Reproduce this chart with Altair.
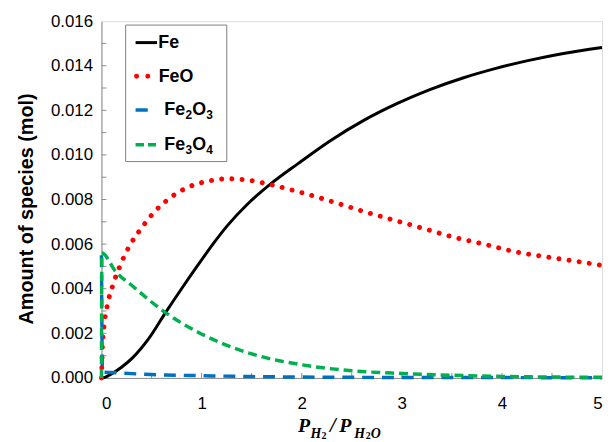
import altair as alt
import pandas as pd

# ---- data ----
fe_x = [0, 0.04, 0.1, 0.2, 0.31, 0.47, 0.64, 0.80, 0.97, 1.13, 1.26, 1.46, 1.69, 1.96,
        2.29, 2.62, 2.95, 3.28, 3.61, 3.94, 4.27, 4.60, 5.0]
fe_y = [0, 0.00004, 0.00018, 0.00048, 0.0009, 0.00175, 0.00293, 0.00400, 0.0051, 0.0061,
        0.00684, 0.0078, 0.0087, 0.0096, 0.01065, 0.01155, 0.0123, 0.01293, 0.01345,
        0.01388, 0.01424, 0.01454, 0.01482]

feo_x = [0, 0.004, 0.01, 0.027, 0.06, 0.116, 0.19, 0.28, 0.40, 0.53, 0.69, 0.87, 1.07, 1.26,
         1.48, 1.69, 1.89, 2.0, 2.30, 2.60, 2.91, 3.21, 3.51, 3.82, 4.13, 4.44, 4.75, 5.0]
feo_y = [0, 0.00056, 0.00145, 0.00238, 0.00329, 0.00419, 0.00508, 0.00592, 0.00672, 0.00745,
         0.00809, 0.00856, 0.00883, 0.00893, 0.00886, 0.00867, 0.00844, 0.00831, 0.00791,
         0.00749, 0.00709, 0.00671, 0.00632, 0.006, 0.00566, 0.00543, 0.00522, 0.00505]

fe2o3_x = [0, 0.01, 0.1, 0.5, 1.0, 1.5, 2.0, 3.0, 4.0, 5.0]
fe2o3_y = [0.0055, 0.00026, 0.00024, 0.00015, 0.0001, 0.00006, 0.00004, 0.00002, 0.000015, 0.00001]

fe3o4_x = [0, 0.004, 0.14, 0.31, 0.64, 0.97, 1.30, 1.63, 1.96, 2.5, 3.0, 3.5, 4.0, 4.5, 5.0]
fe3o4_y = [0, 0.0056, 0.00478, 0.00412, 0.00293, 0.00204, 0.00138, 0.00092, 0.00062,
           0.00032, 0.0002, 0.00012, 0.00007, 0.00004, 0.00003]

x_ticks = [0, 1, 2, 3, 4, 5]
x_minor = [0.5, 1, 1.5, 2, 2.5, 3, 3.5, 4, 4.5]
y_ticks = [0, 0.002, 0.004, 0.006, 0.008, 0.010, 0.012, 0.014, 0.016]
y_minor = [0.001 * i for i in range(1, 16)]

FONT = "Liberation Sans"
SERIF = "Liberation Serif"
GRAY = "#8c8c8c"

xs = alt.Scale(domain=[0, 5], nice=False)
ys = alt.Scale(domain=[0, 0.016], nice=False)

X = alt.X("x:Q", scale=xs,
          axis=alt.Axis(values=x_ticks, title=None, grid=False, ticks=False, tickSize=0,
                        labelFont=FONT, labelFontSize=17, labelColor="black",
                        labelPadding=18, domainColor=GRAY, format="d"))
Y = alt.Y("y:Q", scale=ys,
          axis=alt.Axis(values=y_ticks, title="Amount of species (mol)", grid=False,
                        ticks=False, tickSize=0, format=".3f",
                        labelFont=FONT, labelFontSize=17, labelColor="black",
                        labelPadding=9, domainColor=GRAY,
                        titleFont=FONT, titleFontSize=20, titleFontWeight="bold",
                        titleColor="black", titleX=-76, titleY=189,
                        titleBaseline="middle", titleAngle=270))


def series(xv, yv, color, width, dash=None, cap="butt"):
    df = pd.DataFrame({"x": xv, "y": yv})
    kw = dict(color=color, strokeWidth=width, strokeCap=cap, clip=False,
              interpolate="monotone")
    if dash:
        kw["strokeDash"] = dash
    return alt.Chart(df).mark_line(**kw).encode(x=X, y=Y)


fe = series(fe_x, fe_y, "black", 3)
feo = series(feo_x, feo_y, "#ff0000", 5, [0.01, 10.3], "round")
fe2o3 = series(fe2o3_x, fe2o3_y, "#0070c0", 3.5, [12, 8])
fe3o4 = series(fe3o4_x, fe3o4_y, "#00b050", 3.5, [9, 5])

# inward ticks
xt = alt.Chart(pd.DataFrame({"x": x_minor})).mark_rule(color=GRAY, strokeWidth=1).encode(
    x=alt.X("x:Q", scale=xs), y=alt.value(360), y2=alt.value(355))
yt = alt.Chart(pd.DataFrame({"y": y_minor})).mark_rule(color=GRAY, strokeWidth=1).encode(
    y=alt.Y("y:Q", scale=ys), x=alt.value(0), x2=alt.value(5))

dummy = pd.DataFrame({"d": [0]})


def txt(s, x, y, size, font=FONT, weight="bold", style="normal"):
    return alt.Chart(dummy).mark_text(
        text=s, align="left", baseline="alphabetic", font=font, fontSize=size,
        fontWeight=weight, fontStyle=style, color="black").encode(
        x=alt.value(x), y=alt.value(y))


def seg(x1, x2, y, color, width, dash=None, cap="butt"):
    kw = dict(color=color, strokeWidth=width, strokeCap=cap)
    if dash:
        kw["strokeDash"] = dash
    return alt.Chart(dummy).mark_rule(**kw).encode(
        x=alt.value(x1), x2=alt.value(x2), y=alt.value(y))


# legend box
box = alt.Chart(dummy).mark_rect(fill="white", stroke="#7f7f7f", strokeWidth=1).encode(
    x=alt.value(24.4), x2=alt.value(126.4), y=alt.value(4), y2=alt.value(141.7))

legend = [
    box,
    seg(34.4, 56, 21.7, "black", 3),
    txt("Fe", 57.3, 27.4, 18),
    seg(35.4, 46.8, 55.7, "#ff0000", 5, [0.01, 11.3], "round"),
    txt("FeO", 57.7, 61.7, 18),
    seg(34.4, 46.7, 89.7, "#0070c0", 3.5),
    txt("Fe", 63.4, 95, 18),
    txt("2", 84.8, 99, 12),
    txt("O", 91.5, 95, 18),
    txt("3", 105.8, 99, 12),
    seg(34.4, 55, 124.7, "#00b050", 3.5, [8.5, 4]),
    txt("Fe", 63.4, 129.7, 18),
    txt("3", 84.8, 133.7, 12),
    txt("O", 91.5, 129.7, 18),
    txt("4", 105.8, 133.7, 12),
]

# x-axis title P_{H2}/P_{H2O}
xtitle = [
    txt("P", 198.4, 414.7, 20, SERIF, "bold", "italic"),
    txt("H", 211.0, 420.7, 14, SERIF, "bold", "italic"),
    txt("2", 222.0, 421.2, 10, SERIF, "bold", "normal"),
    txt("/", 230.5, 414.7, 21, SERIF, "bold", "italic"),
    txt("P", 240.0, 414.7, 20, SERIF, "bold", "italic"),
    txt("H", 255.0, 420.7, 14, SERIF, "bold", "italic"),
    txt("2", 266.7, 421.2, 10, SERIF, "bold", "normal"),
    txt("O", 271.7, 420.7, 14, SERIF, "bold", "italic"),
]

chart = alt.layer(xt, yt, fe, feo, fe2o3, fe3o4, *legend, *xtitle).properties(
    width=505, height=360,
    autosize=alt.AutoSizeParams(type="none"),
    padding={"left": 94.3, "top": 11.3, "right": 3, "bottom": 60.7},
).configure_view(stroke=GRAY, strokeWidth=1).configure(background="white")

chart.save("out.html", embed_options={"renderer": "svg", "actions": False})
